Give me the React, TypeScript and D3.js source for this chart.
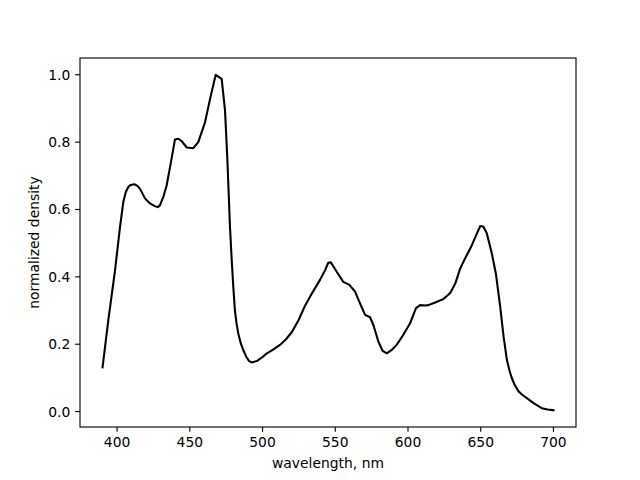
import React from "react";
import * as d3 from "d3";

const wavelengths = [
  390, 394, 398.6, 402, 404.3, 406, 407.7, 409.5, 411.8, 413.8, 415.7, 419.2, 422.6, 425.9, 428, 429.5, 432, 434.1, 437,
  439.8, 442.1, 444.4, 447.9, 452.4, 455.8, 460.4, 464, 467.8, 471.9, 474.2, 475.8, 477.6, 478.8, 479.9, 481, 482.2,
  483.3, 485, 486.8, 489.1, 490.8, 492.5, 496, 500, 503, 507, 512, 516, 520.3, 524.8, 529.4, 534, 539.5, 543, 545.2, 547,
  551, 555.5, 559.7, 563.6, 567, 570.5, 573.9, 576.2, 579.6, 582.6, 585.4, 588.8, 592.2, 596.8, 601.4, 605.5, 608.3,
  611.9, 614, 618.7, 624.4, 629, 632.5, 635.9, 639.3, 643.9, 647.4, 649.7, 651.9, 654.2, 657.6, 660.4, 663.4, 665.7, 668,
  670, 671.4, 673.5, 676, 678.5, 681.7, 686.3, 692, 696, 700,
];
const densities = [
  0.131, 0.272, 0.42, 0.548, 0.623, 0.652, 0.667, 0.673, 0.675, 0.671, 0.662, 0.633, 0.618, 0.61, 0.607, 0.613, 0.64,
  0.672, 0.74, 0.808, 0.81, 0.803, 0.784, 0.782, 0.8, 0.858, 0.93, 1.0, 0.988, 0.894, 0.75, 0.55, 0.45, 0.37, 0.3, 0.26,
  0.232, 0.203, 0.182, 0.16, 0.15, 0.146, 0.15, 0.162, 0.173, 0.183, 0.198, 0.214, 0.237, 0.272, 0.316, 0.351, 0.391,
  0.42, 0.442, 0.443, 0.415, 0.385, 0.376, 0.356, 0.321, 0.287, 0.28, 0.257, 0.208, 0.18, 0.173, 0.183, 0.198, 0.228,
  0.262, 0.307, 0.316, 0.315, 0.316, 0.324, 0.334, 0.352, 0.38, 0.425, 0.455, 0.494, 0.529, 0.551, 0.549, 0.529, 0.47,
  0.41, 0.311, 0.223, 0.153, 0.118, 0.099, 0.078, 0.06, 0.05, 0.04, 0.025, 0.01, 0.006, 0.004,
];
const xTicks = [400, 450, 500, 550, 600, 650, 700];
const yTicks = [0.0, 0.2, 0.4, 0.6, 0.8, 1.0];
const xLabel = "wavelength, nm";
const yLabel = "normalized density";

export default function App() {
  const W = 640, H = 480;
  const L = 80, R = 576, T = 58, B = 427;
  const fs = 13.89;
  const font = "DejaVu Sans, sans-serif";

  const xMin = d3.min(wavelengths)!, xMax = d3.max(wavelengths)!;
  const yMin = d3.min(densities)!, yMax = d3.max(densities)!;
  const xPad = (xMax - xMin) * 0.05, yPad = (yMax - yMin) * 0.05;
  const x = d3.scaleLinear().domain([xMin - xPad, xMax + xPad]).range([L, R]);
  const y = d3.scaleLinear().domain([yMin - yPad, yMax + yPad]).range([B, T]);

  const data = wavelengths.map((w, i) => [w, densities[i]] as [number, number]);
  const line = d3.line<[number, number]>().x(d => x(d[0])).y(d => y(d[1])).curve(d3.curveLinear);

  return (
    <svg width={W} height={H} style={{ position: "absolute", left: 0, top: 0, background: "#fff" }}>
      <rect x={0} y={0} width={W} height={H} fill="#fff" />
      <path d={line(data) || ""} fill="none" stroke="#000" strokeWidth={2.08} strokeLinejoin="round" strokeLinecap="square" />
      <rect x={L} y={T} width={R - L} height={B - T} fill="none" stroke="#000" strokeWidth={1.11} />
      {xTicks.map(t => (
        <g key={"x" + t}>
          <line x1={x(t)} x2={x(t)} y1={B} y2={B + 4.86} stroke="#000" strokeWidth={1.11} />
          <text x={x(t)} y={B + 4.86 + 4.86} dy="0.76em" textAnchor="middle" fontSize={fs} fontFamily={font}>{t}</text>
        </g>
      ))}
      {yTicks.map(t => (
        <g key={"y" + t}>
          <line x1={L - 4.86} x2={L} y1={y(t)} y2={y(t)} stroke="#000" strokeWidth={1.11} />
          <text x={L - 4.86 - 4.86} y={y(t)} dy="0.36em" textAnchor="end" fontSize={fs} fontFamily={font}>{t.toFixed(1)}</text>
        </g>
      ))}
      <text x={(L + R) / 2} y={468} textAnchor="middle" fontSize={fs} fontFamily={font}>{xLabel}</text>
      <text transform={`translate(39,${(T + B) / 2}) rotate(-90)`} textAnchor="middle" fontSize={fs} fontFamily={font}>{yLabel}</text>
    </svg>
  );
}
